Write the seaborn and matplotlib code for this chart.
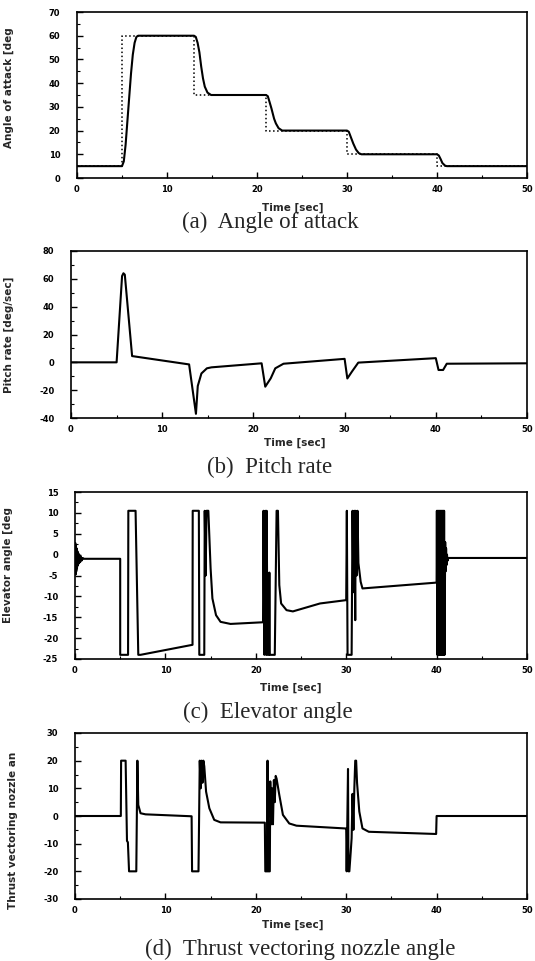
import matplotlib
matplotlib.use("Agg")
import matplotlib.pyplot as plt
import pandas as pd
import seaborn as sns
from matplotlib.ticker import MultipleLocator

# ---------------- data ----------------
# (a) Angle of attack: command (dotted) and response (solid)
aoa_cmd_t = [0, 5, 5, 13, 13, 21, 21, 30, 30, 40, 40, 50]
aoa_cmd_v = [5, 5, 60, 60, 35, 35, 20, 20, 10, 10, 5, 5]
aoa_t = [0, 5.0, 5.2, 5.4, 5.6, 5.8, 6.0, 6.2, 6.4, 6.6, 6.8,
         13.0, 13.2, 13.4, 13.6, 13.8, 14.0, 14.2, 14.5, 14.9,
         21.0, 21.2, 21.4, 21.6, 21.9, 22.1, 22.4, 22.8,
         30.0, 30.2, 30.4, 30.7, 31.0, 31.3, 31.6,
         40.0, 40.2, 40.4, 40.6, 40.9, 41.1, 50]
aoa_v = [5, 5, 7, 14, 24, 34, 44, 52, 57, 59.5, 60,
         60, 59.5, 57, 53, 47, 42, 38.5, 36, 35,
         35, 34.5, 32, 29.4, 25, 23, 21, 20,
         20, 19.5, 17.5, 14.5, 12, 10.5, 10,
         10, 9.5, 8, 6.3, 5.2, 5, 5]

# (b) Pitch rate
pr_t = [0, 5.0, 5.6, 5.75, 5.9, 6.7, 12.95, 13.7, 13.9, 14.3, 14.9, 15.4,
        20.9, 21.3, 21.9, 22.4, 23.3, 30.0, 30.3, 30.8, 31.5,
        40.0, 40.3, 40.8, 41.2, 50]
pr_v = [0, 0, 62, 64, 63, 4.5, -1.5, -37, -17, -8, -4.3, -3.6,
        -0.7, -17.5, -11.5, -4.3, -1, 2.5, -11.6, -6.7, -0.2,
        3, -5.5, -5.5, -1, -0.7]

# (c) Elevator angle
el_t = [0.0, 0.03, 0.06, 0.10, 0.14, 0.18, 0.22, 0.27, 0.32, 0.37, 0.43, 0.50,
        0.57, 0.65, 0.75, 0.85, 1.0, 5.0,
        5.0, 5.87, 5.9, 6.7, 7.0, 7.25, 13.0, 13.02, 13.7, 13.75, 14.3,
        14.35, 14.45, 14.55, 14.75, 15.0, 15.2, 15.6, 16.1, 17.2, 20.8,
        20.85, 20.95, 21.05, 21.15, 21.2, 21.3, 21.45, 21.5, 21.55, 22.1,
        22.3, 22.45, 22.6, 22.8, 23.4, 24.1, 27.1, 30.0,
        30.07, 30.15, 30.6, 30.7, 30.8, 30.9, 31.0, 31.05, 31.15, 31.25,
        31.35, 31.6, 31.8, 40.0,
        40.03, 40.08, 40.13, 40.18, 40.23, 40.28, 40.33, 40.38, 40.43, 40.48,
        40.53, 40.58, 40.63, 40.68, 40.73, 40.78, 40.83, 40.88,
        40.95, 41.0, 41.05, 41.1, 41.15, 41.2, 41.3, 50]
el_v = [0, 2.8, -4.8, 2.2, -4.0, 1.5, -3.3, 0.8, -2.6, 0.3, -2.1, -0.1,
        -1.8, -0.5, -1.4, -0.8, -1.0, -1.0,
        -24, -24, 10.5, 10.5, -24, -24, -21.6, 10.5, 10.5, -24, -24,
        10.5, -5, 10.5, 10.5, -3.3, -10.5, -14.5, -16.1, -16.6, -16.2,
        10.5, -24, 10.5, -24, 10.5, -24, -24, -4.3, -24, -24,
        10.5, 10.5, -7.3, -11.7, -13.3, -13.6, -11.7, -10.9,
        10.5, -24, -24, 10.5, -9, 10.5, -15.7, 10.5, -5, 10.5,
        -2, -6.5, -8.1, -6.7,
        10.5, -24, 10.5, -24, 10.5, -24, 10.5, -24, 10.5, -24,
        10.5, -24, 10.5, -24, 10.5, -24, 10.5, -24,
        3, -4, 1.5, -2.5, 0, -1.5, -0.8, -0.8]

# (d) Thrust vectoring nozzle angle
tv_t = [0, 5.07, 5.1, 5.6, 5.75, 5.85, 5.98, 6.78, 6.9, 7.0, 7.25, 7.8, 12.9,
        12.95, 13.66, 13.8, 13.9, 14.0, 14.1, 14.2, 14.3, 14.5, 14.86, 15.4, 16.1, 21.0,
        21.05, 21.25, 21.3, 21.35, 21.55, 21.6, 21.7, 21.8, 21.9, 22.0, 22.1, 22.2,
        22.3, 22.6, 23.0, 23.7, 24.5, 29.9,
        30.0, 30.05, 30.2, 30.25, 30.35, 30.5, 30.6, 30.7, 30.8, 30.9, 31.0, 31.1,
        31.2, 31.45, 31.8, 32.5, 39.95, 40.0, 50]
tv_v = [0, 0, 20, 20, -9, -9.5, -20, -20, 20, 4, 1, 0.6, -0.1,
        -20, -20, 20, 10, 20, 12, 20, 18, 8.8, 2.8, -1.4, -2.3, -2.4,
        -20, -20, 20, -20, -20, 12.5, -3, 10, -3, 13, 5, 14.5,
        13.5, 7.6, 0.4, -2.7, -3.5, -4.5,
        -4.5, -20, 17, -20, -20, -13, -8, 8, -5, 10, 20, 20,
        12, 1.6, -4.5, -5.7, -6.5, 0, 0]

captions = ["(a)  Angle of attack", "(b)  Pitch rate",
            "(c)  Elevator angle", "(d)  Thrust vectoring nozzle angle"]
ylabels = ["Angle of attack [deg", "Pitch rate [deg/sec]",
           "Elevator angle [deg", "Thrust vectoring nozzle an"]
xlabel = "Time [sec]"

# ---------------- styling ----------------
sns.set_theme(style="ticks")
plt.rcParams.update({
    "font.family": ["DejaVu Sans"],
    "axes.unicode_minus": False,
    "xtick.direction": "in", "ytick.direction": "in",
    "xtick.major.size": 4, "ytick.major.size": 4,
    "xtick.minor.size": 2.5, "ytick.minor.size": 2.5,
    "xtick.major.width": 1.0, "ytick.major.width": 1.0,
    "xtick.minor.width": 0.8, "ytick.minor.width": 0.8,
    "axes.linewidth": 1.2, "axes.edgecolor": "black",
    "xtick.color": "black", "ytick.color": "black",
})

W, H = 535, 961
fig = plt.figure(figsize=(W / 100, H / 100), dpi=100)

# pixel boxes: left, right, top, bottom
boxes = [(77, 527, 12, 178), (71, 527, 251, 418), (75, 527, 492, 659), (75, 527, 733, 899)]
ylims = [(0, 70), (-40, 80), (-25, 15), (-30, 30)]
ymaj = [10, 20, 5, 10]
ymin = [5, 10, 2.5, 5]
cap_pos = [(270, 222), (270, 467), (268, 712), (300, 949)]
ylab_pos = [(14, 88), (14, 335), (13, 565), (18, 830)]
xlab_pos = [(293, 203), (295, 438), (291, 683), (293, 920)]

series = [
    [(aoa_t, aoa_v, "-"), (aoa_cmd_t, aoa_cmd_v, ":")],
    [(pr_t, pr_v, "-")],
    [(el_t, el_v, "-")],
    [(tv_t, tv_v, "-")],
]

for i, (l, r, t, b) in enumerate(boxes):
    ax = fig.add_axes([l / W, 1 - b / H, (r - l) / W, (b - t) / H])
    for (xs, ys, ls) in series[i]:
        df = pd.DataFrame({"t": xs, "v": ys})
        sns.lineplot(data=df, x="t", y="v", estimator=None, sort=False,
                     color="black", linestyle=ls,
                     linewidth=1.5 if ls == "-" else 1.1, ax=ax)
    ax.set_xlim(0, 50)
    ax.set_ylim(*ylims[i])
    ax.xaxis.set_major_locator(MultipleLocator(10))
    ax.xaxis.set_minor_locator(MultipleLocator(5))
    ax.yaxis.set_major_locator(MultipleLocator(ymaj[i]))
    ax.yaxis.set_minor_locator(MultipleLocator(ymin[i]))
    ax.tick_params(axis="both", which="major", labelsize=6, pad=5)
    ax.tick_params(axis="y", which="major", pad=12)
    for lab in ax.get_xticklabels() + ax.get_yticklabels():
        lab.set_fontweight("bold")
    ax.set_xlabel(xlabel, fontsize=7.5, fontweight="bold")
    ax.xaxis.set_label_coords((xlab_pos[i][0] - l) / (r - l), (b - xlab_pos[i][1]) / (b - t))
    ax.set_ylabel(ylabels[i], fontsize=7.5, fontweight="bold")
    ax.yaxis.set_label_coords((ylab_pos[i][0] - l) / (r - l), (b - ylab_pos[i][1]) / (b - t))
    for s in ax.spines.values():
        s.set_visible(True)
    fig.text(cap_pos[i][0] / W, 1 - cap_pos[i][1] / H, captions[i],
             family="Liberation Serif", fontsize=16.5, ha="center", va="center")

fig.savefig("out.png", dpi=100)
